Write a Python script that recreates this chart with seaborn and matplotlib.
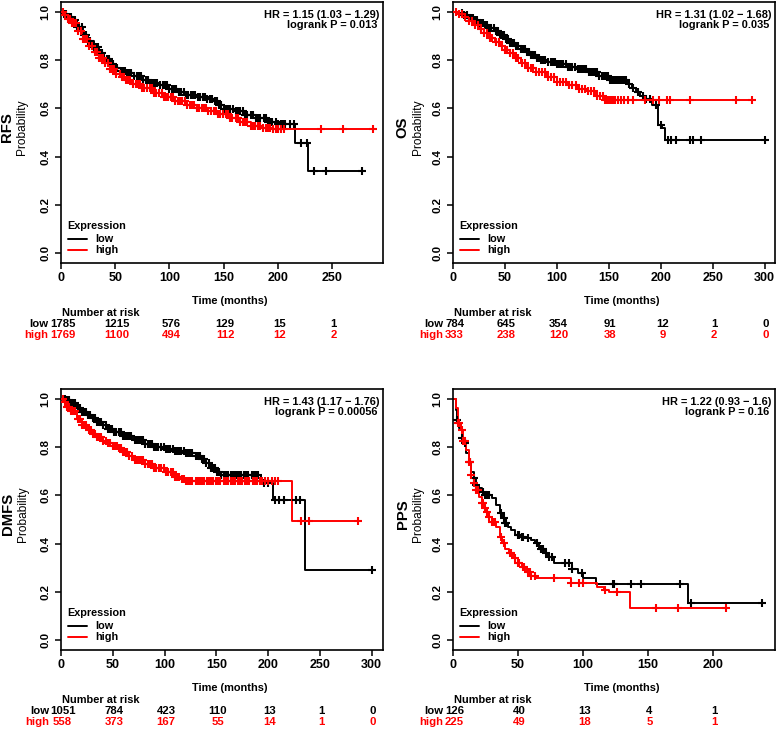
import numpy as np
import pandas as pd
import seaborn as sns
import matplotlib
matplotlib.use("Agg")
import matplotlib.pyplot as plt
import matplotlib.transforms as mtransforms

# ---------------- datos ----------------
# RFS
rfs_low_t = [0, 3, 6, 10, 15, 20, 25, 30, 35, 40, 45, 50, 55, 60, 67, 75, 82, 90, 100, 108, 115, 125, 135, 140, 145, 150, 160, 170, 180, 190, 200, 216, 228, 279]
rfs_low_s = [1.0, 0.99, 0.98, 0.965, 0.935, 0.905, 0.878, 0.853, 0.828, 0.806, 0.784, 0.765, 0.755, 0.748, 0.733, 0.717, 0.705, 0.695, 0.682, 0.668, 0.655, 0.647, 0.640, 0.630, 0.612, 0.598, 0.590, 0.571, 0.558, 0.543, 0.537, 0.458, 0.342, 0.342]
rfs_low_cens = [3, 5, 7, 9, 11, 13, 15, 17, 19, 21, 23, 25, 27, 30, 32, 34, 36, 38, 40, 42, 44, 46, 48, 50, 52, 55, 57, 59, 61, 63, 65, 67, 70, 72, 74, 76, 78, 80, 83, 85, 87, 89, 91, 94, 96, 98, 100, 102, 104, 106, 109, 111, 113, 115, 117, 120, 122, 124, 126, 128, 131, 133, 135, 137, 139, 142, 144, 146, 148, 150, 152, 154, 156, 159, 161, 163, 165, 168, 170, 172, 175, 177, 180, 182, 184, 187, 189, 191, 193, 195, 198, 200, 203, 205, 207, 211, 215, 221, 227, 233, 244, 278]
rfs_high_t = [0, 3, 6, 10, 15, 20, 25, 30, 35, 40, 45, 50, 55, 60, 65, 75, 85, 95, 105, 115, 125, 135, 145, 155, 165, 175, 185, 195, 288]
rfs_high_s = [1.0, 0.985, 0.97, 0.953, 0.92, 0.886, 0.86, 0.835, 0.81, 0.786, 0.762, 0.742, 0.728, 0.717, 0.700, 0.683, 0.662, 0.645, 0.63, 0.615, 0.603, 0.59, 0.575, 0.56, 0.543, 0.528, 0.52, 0.513, 0.513]
rfs_high_cens = [2, 4, 6, 8, 10, 12, 14, 16, 18, 20, 22, 24, 26, 29, 31, 33, 35, 37, 39, 41, 43, 45, 47, 49, 51, 54, 56, 58, 60, 62, 64, 66, 69, 71, 73, 75, 77, 79, 82, 84, 86, 88, 90, 93, 95, 97, 99, 101, 103, 105, 108, 110, 112, 114, 116, 119, 121, 123, 125, 127, 130, 132, 134, 136, 138, 141, 143, 145, 147, 149, 152, 154, 156, 158, 161, 163, 165, 168, 170, 172, 175, 177, 179, 182, 184, 186, 189, 191, 193, 196, 198, 200, 203, 206, 240, 260, 288]
rfs_risk_t = [0, 50, 100, 150, 200, 250]
rfs_risk_low = [1785, 1215, 576, 129, 15, 1]
rfs_risk_high = [1769, 1100, 494, 112, 12, 2]

# OS
os_low_t = [0, 5, 10, 15, 20, 25, 30, 35, 40, 45, 50, 55, 60, 65, 70, 75, 80, 85, 90, 100, 110, 120, 130, 140, 150, 168, 172, 176, 180, 186, 192, 197, 201, 204, 300]
os_low_s = [1.0, 0.995, 0.986, 0.975, 0.965, 0.955, 0.945, 0.932, 0.918, 0.903, 0.888, 0.872, 0.858, 0.845, 0.832, 0.82, 0.81, 0.8, 0.792, 0.783, 0.771, 0.762, 0.750, 0.733, 0.716, 0.702, 0.685, 0.668, 0.652, 0.64, 0.612, 0.529, 0.52, 0.47, 0.47]
os_low_cens = [9, 11, 13, 15, 17, 19, 21, 23, 25, 27, 29, 31, 33, 35, 37, 39, 41, 43, 45, 47, 49, 51, 53, 55, 57, 59, 61, 63, 65, 67, 69, 71, 73, 75, 77, 79, 81, 83, 85, 87, 89, 91, 94, 96, 98, 100, 102, 104, 106, 109, 111, 113, 115, 117, 120, 122, 124, 126, 128, 131, 133, 135, 137, 139, 141, 143, 145, 147, 149, 151, 153, 155, 157, 159, 161, 163, 165, 167, 169, 173, 178, 183, 186, 190, 195, 200, 207, 210, 215, 228, 231, 239, 300]
os_high_t = [0, 5, 10, 15, 20, 25, 30, 35, 40, 45, 50, 55, 60, 65, 70, 80, 90, 100, 110, 120, 130, 138, 146, 288]
os_high_s = [1.0, 0.99, 0.979, 0.962, 0.945, 0.928, 0.91, 0.892, 0.875, 0.858, 0.841, 0.83, 0.81, 0.788, 0.768, 0.751, 0.728, 0.708, 0.695, 0.681, 0.670, 0.65, 0.633, 0.633]
os_high_cens = [3, 6, 9, 12, 15, 18, 21, 24, 27, 30, 33, 36, 38, 41, 44, 47, 50, 52, 55, 58, 61, 63, 66, 69, 72, 75, 77, 80, 83, 86, 89, 91, 94, 97, 100, 103, 106, 109, 112, 115, 118, 121, 124, 127, 130, 133, 136, 139, 142, 144, 146, 148, 150, 152, 154, 156, 159, 162, 165, 168, 173, 185, 193, 198, 206, 209, 228, 272, 288]
os_risk_t = [0, 50, 100, 150, 200, 250, 300]
os_risk_low = [784, 645, 354, 91, 12, 1, 0]
os_risk_high = [333, 238, 120, 38, 9, 2, 0]

# DMFS
dmfs_low_t = [0, 5, 10, 15, 20, 25, 30, 35, 40, 45, 50, 60, 70, 80, 90, 100, 110, 120, 130, 135, 140, 145, 150, 154, 193, 205, 236, 300]
dmfs_low_s = [1.0, 0.995, 0.982, 0.962, 0.945, 0.932, 0.92, 0.905, 0.89, 0.875, 0.862, 0.846, 0.83, 0.814, 0.8, 0.792, 0.785, 0.774, 0.762, 0.75, 0.735, 0.715, 0.697, 0.683, 0.65, 0.581, 0.29, 0.29]
dmfs_low_cens = [4, 6, 8, 10, 12, 14, 16, 18, 20, 22, 24, 26, 28, 31, 33, 35, 37, 39, 41, 43, 45, 47, 49, 51, 53, 56, 58, 60, 62, 64, 66, 68, 71, 73, 75, 77, 79, 81, 84, 86, 88, 90, 92, 94, 97, 99, 101, 103, 105, 108, 110, 112, 114, 116, 119, 121, 123, 125, 127, 130, 132, 134, 136, 138, 140, 143, 145, 147, 149, 151, 153, 155, 157, 159, 161, 164, 166, 168, 170, 172, 174, 177, 179, 181, 184, 186, 188, 190, 196, 200, 207, 211, 215, 227, 231, 300]
dmfs_high_t = [0, 3, 6, 10, 15, 20, 25, 30, 35, 40, 45, 50, 55, 60, 65, 70, 80, 90, 100, 110, 116, 121, 223, 287]
dmfs_high_s = [1.0, 0.985, 0.965, 0.947, 0.915, 0.893, 0.872, 0.855, 0.84, 0.826, 0.816, 0.806, 0.795, 0.78, 0.762, 0.748, 0.728, 0.712, 0.695, 0.676, 0.668, 0.661, 0.494, 0.494]
dmfs_high_cens = [2, 4, 6, 8, 10, 12, 14, 16, 18, 20, 22, 24, 27, 29, 31, 33, 35, 37, 39, 41, 43, 45, 47, 50, 52, 54, 56, 58, 60, 62, 64, 66, 69, 71, 73, 75, 77, 79, 81, 84, 86, 88, 90, 92, 95, 97, 99, 101, 103, 106, 108, 110, 112, 114, 117, 119, 121, 123, 125, 127, 130, 132, 134, 136, 138, 141, 143, 145, 147, 150, 152, 154, 157, 159, 161, 164, 166, 168, 171, 173, 175, 178, 180, 182, 185, 187, 189, 192, 194, 197, 200, 204, 207, 210, 232, 240, 287]
dmfs_risk_t = [0, 50, 100, 150, 200, 250, 300]
dmfs_risk_low = [1051, 784, 423, 110, 13, 1, 0]
dmfs_risk_high = [558, 373, 167, 55, 14, 1, 0]

# PPS
pps_low_t = [0, 2, 3, 5, 7, 8, 10, 12, 14, 16, 18, 20, 22, 25, 30, 33, 36, 38, 40, 42, 45, 48, 52, 55, 60, 63, 66, 70, 73, 78, 92, 96, 100, 110, 181, 238]
pps_low_s = [1.0, 0.954, 0.913, 0.878, 0.837, 0.816, 0.775, 0.74, 0.698, 0.671, 0.643, 0.629, 0.615, 0.602, 0.588, 0.56, 0.526, 0.505, 0.484, 0.47, 0.456, 0.436, 0.429, 0.422, 0.415, 0.401, 0.38, 0.36, 0.346, 0.318, 0.297, 0.277, 0.256, 0.235, 0.156, 0.156]
pps_low_cens = [3, 7, 9, 13, 16, 18, 23, 25, 26, 28, 37, 39, 40, 41, 50, 51, 53, 54, 58, 65, 68, 69, 72, 74, 76, 86, 89, 92, 99, 123, 124, 137, 145, 175, 183, 238]
pps_high_t = [0, 2, 4, 6, 8, 10, 12, 14, 16, 18, 20, 22, 24, 26, 28, 30, 33, 36, 38, 40, 43, 46, 50, 53, 56, 60, 64, 91, 111, 116, 120, 136, 210]
pps_high_s = [1.0, 0.96, 0.899, 0.871, 0.823, 0.788, 0.74, 0.685, 0.65, 0.622, 0.595, 0.567, 0.546, 0.533, 0.512, 0.491, 0.47, 0.429, 0.401, 0.38, 0.36, 0.339, 0.318, 0.304, 0.284, 0.268, 0.256, 0.238, 0.221, 0.207, 0.198, 0.134, 0.134]
pps_high_cens = [4, 5, 7, 8, 9, 12, 13, 14, 16, 18, 19, 22, 23, 25, 26, 28, 30, 31, 32, 37, 39, 44, 45, 48, 50, 51, 54, 55, 58, 59, 60, 63, 78, 91, 97, 100, 117, 126, 156, 173, 210]
pps_risk_t = [0, 50, 100, 150, 200]
pps_risk_low = [126, 40, 13, 4, 1]
pps_risk_high = [225, 49, 18, 5, 1]

hr_texts = ["HR = 1.15 (1.03 \u2212 1.29)", "HR = 1.31 (1.02 \u2212 1.68)",
            "HR = 1.43 (1.17 \u2212 1.76)", "HR = 1.22 (0.93 \u2212 1.6)"]
p_texts = ["logrank P = 0.013", "logrank P = 0.035",
           "logrank P = 0.00056", "logrank P = 0.16"]
names = ["RFS", "OS", "DMFS", "PPS"]

sns.set_theme(style="ticks")
plt.rcParams['font.family'] = ['Liberation Sans', 'DejaVu Sans']
plt.rcParams['text.color'] = 'black'
plt.rcParams['xtick.color'] = 'black'
plt.rcParams['ytick.color'] = 'black'
plt.rcParams['axes.edgecolor'] = 'black'

RED = "#ff0000"
BLACK = "#000000"

fig = plt.figure(figsize=(7.78, 7.30), dpi=100)
W, H = 778.0, 730.0


def add_panel(left, top, right, bottom):
    return fig.add_axes([left / W, 1 - bottom / H, (right - left) / W, (bottom - top) / H])


def surv_at(t, s, ct):
    # valor de la curva escalonada en los tiempos censurados
    idx = np.searchsorted(np.array(t), np.array(ct), side="right") - 1
    return np.array(s)[idx]


def km_panel(ax, i, xmax, low, high, risk_t, risk_low, risk_high, ylab_x, lab_x):
    for (t, s, ct), col in ((low, BLACK), (high, RED)):
        df = pd.DataFrame({"t": t, "s": s})
        sns.lineplot(data=df, x="t", y="s", drawstyle="steps-post", color=col,
                     lw=1.4, estimator=None, ax=ax, legend=False)
        cdf = pd.DataFrame({"t": ct, "s": surv_at(t, s, ct)})
        sns.scatterplot(data=cdf, x="t", y="s", marker="+", s=28, linewidth=1.5,
                        color=col, ax=ax, legend=False, zorder=3)

    ax.set_xlim(0, xmax)
    ax.set_ylim(-0.04, 1.04)
    ax.set_xticks(risk_t)
    ax.set_xticklabels([str(v) for v in risk_t], fontweight="bold", fontsize=9)
    ax.set_yticks([0, 0.2, 0.4, 0.6, 0.8, 1.0])
    ax.set_yticklabels(["0.0", "0.2", "0.4", "0.6", "0.8", "1.0"], rotation=90,
                       va="center", fontweight="bold", fontsize=8.2)
    ax.tick_params(axis="both", direction="out", length=4.3, width=1.1, color="black")
    ax.tick_params(axis="x", pad=2)
    ax.tick_params(axis="y", pad=3.5)
    ax.set_xlabel("")
    ax.set_ylabel("")
    for sp in ax.spines.values():
        sp.set_visible(True)
        sp.set_linewidth(1.2)
        sp.set_color("black")

    # etiquetas de eje
    ax.text(ylab_x, 0.52, names[i], rotation=90, transform=ax.transAxes, ha="center",
            va="center", fontsize=10.7, fontweight="bold")
    ax.text(ylab_x + 0.046, 0.52, "Probability", rotation=90, transform=ax.transAxes,
            ha="center", va="center", fontsize=8.6)
    ax.text(0.524, -0.147, "Time (months)", transform=ax.transAxes, ha="center",
            va="center", fontsize=7.9, fontweight="bold")

    # HR y logrank
    ax.text(0.99, 0.95, hr_texts[i], transform=ax.transAxes, ha="right", va="center",
            fontsize=7.9, fontweight="bold")
    ax.text(0.982, 0.912, p_texts[i], transform=ax.transAxes, ha="right", va="center",
            fontsize=7.9, fontweight="bold")

    # leyenda
    ax.text(0.018, 0.143, "Expression", transform=ax.transAxes, ha="left", va="center",
            fontsize=7.8, fontweight="bold")
    ax.plot([0.022, 0.081], [0.091, 0.091], transform=ax.transAxes, color=BLACK, lw=1.4)
    ax.plot([0.022, 0.081], [0.050, 0.050], transform=ax.transAxes, color=RED, lw=1.4)
    ax.text(0.106, 0.091, "low", transform=ax.transAxes, ha="left", va="center",
            fontsize=7.8, fontweight="bold")
    ax.text(0.106, 0.050, "high", transform=ax.transAxes, ha="left", va="center",
            fontsize=7.8, fontweight="bold")

    # tabla de numero en riesgo
    tr = mtransforms.blended_transform_factory(ax.transData, ax.transAxes)
    ax.text(0.003, -0.19, "Number at risk", transform=ax.transAxes, ha="left",
            va="center", fontsize=7.9, fontweight="bold")
    ax.text(lab_x, -0.232, "low", transform=ax.transAxes, ha="right", va="center",
            fontsize=8.2, fontweight="bold", color=BLACK, clip_on=False)
    ax.text(lab_x, -0.274, "high", transform=ax.transAxes, ha="right", va="center",
            fontsize=8.2, fontweight="bold", color=RED, clip_on=False)
    for x, nl, nh in zip(risk_t, risk_low, risk_high):
        ax.text(x + xmax * 0.005, -0.232, str(nl), transform=tr, ha="center", va="center",
                fontsize=8.2, fontweight="bold", color=BLACK, clip_on=False)
        ax.text(x + xmax * 0.005, -0.274, str(nh), transform=tr, ha="center", va="center",
                fontsize=8.2, fontweight="bold", color=RED, clip_on=False)


ax1 = add_panel(61, 2, 383, 263)
km_panel(ax1, 0, 297, (rfs_low_t, rfs_low_s, rfs_low_cens), (rfs_high_t, rfs_high_s, rfs_high_cens),
         rfs_risk_t, rfs_risk_low, rfs_risk_high, -0.167, -0.040)

ax2 = add_panel(453, 2, 775, 263)
km_panel(ax2, 1, 310, (os_low_t, os_low_s, os_low_cens), (os_high_t, os_high_s, os_high_cens),
         os_risk_t, os_risk_low, os_risk_high, -0.156, -0.031)

ax3 = add_panel(61, 389, 383, 650)
km_panel(ax3, 2, 311, (dmfs_low_t, dmfs_low_s, dmfs_low_cens), (dmfs_high_t, dmfs_high_s, dmfs_high_cens),
         dmfs_risk_t, dmfs_risk_low, dmfs_risk_high, -0.165, -0.037)

ax4 = add_panel(453, 389, 775, 650)
km_panel(ax4, 3, 248, (pps_low_t, pps_low_s, pps_low_cens), (pps_high_t, pps_high_s, pps_high_cens),
         pps_risk_t, pps_risk_low, pps_risk_high, -0.156, -0.031)

fig.savefig("out.png", dpi=100, facecolor="white")
